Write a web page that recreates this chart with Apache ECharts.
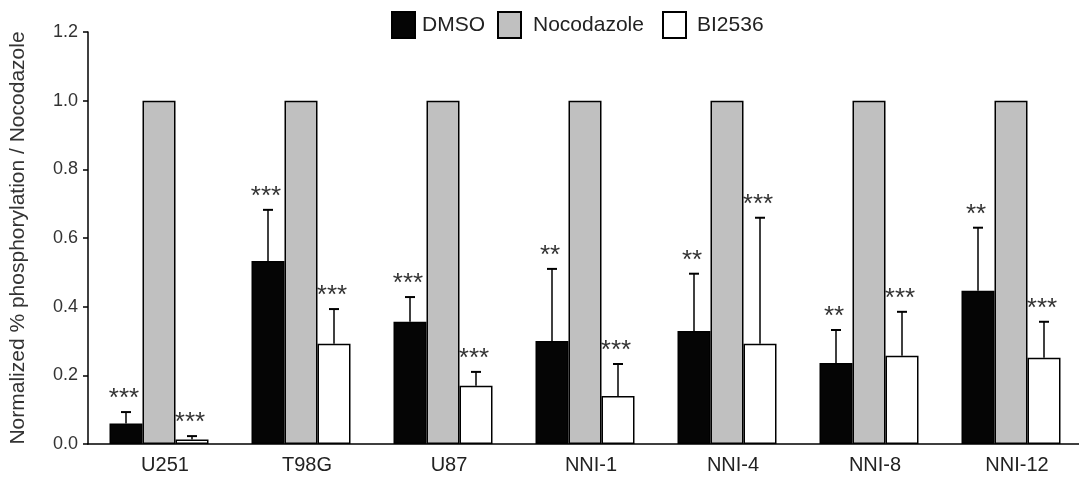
<!DOCTYPE html>
<html>
<head>
<meta charset="utf-8">
<script src="https://cdn.jsdelivr.net/npm/echarts@6/dist/echarts.min.js"></script>
<style>html,body{margin:0;padding:0;background:#fff;}#chart{width:1079px;height:477px;}</style>
</head>
<body>
<div id="chart"></div>
<script>
var categories = ['U251', 'T98G', 'U87', 'NNI-1', 'NNI-4', 'NNI-8', 'NNI-12'];
var dmso = [0.06, 0.533, 0.356, 0.30, 0.329, 0.236, 0.446];
var dmsoErr = [0.093, 0.682, 0.428, 0.51, 0.496, 0.332, 0.63];
var dmsoSig = ['***', '***', '***', '**', '**', '**', '**'];
var nocodazole = [1, 1, 1, 1, 1, 1, 1];
var bi2536 = [0.013, 0.292, 0.17, 0.14, 0.292, 0.257, 0.251];
var bi2536Err = [0.023, 0.393, 0.21, 0.233, 0.659, 0.385, 0.356];
var bi2536Sig = ['***', '***', '***', '***', '***', '***', '***'];
var yTicks = [0, 0.2, 0.4, 0.6, 0.8, 1.0, 1.2];

var BAR_W = 33;
var FONT = '"Liberation Sans", Arial, sans-serif';

function errSeries(vals, errs, sigs, offset) {
  var data = vals.map(function (v, i) { return [i, v, errs[i], sigs[i]]; });
  return {
    type: 'custom',
    name: 'err' + offset,
    data: data,
    encode: { x: 0, y: 2 },
    z: 10,
    renderItem: function (params, api) {
      var i = api.value(0);
      var base = api.coord([i, api.value(1)]);
      var top = api.coord([i, api.value(2)]);
      var x = base[0] + offset;
      var sig = data[params.dataIndex][3];
      return {
        type: 'group',
        children: [
          { type: 'line', shape: { x1: x, y1: base[1], x2: x, y2: top[1] }, style: { stroke: '#000', lineWidth: 1.5 } },
          { type: 'line', shape: { x1: x - 5, y1: top[1], x2: x + 5, y2: top[1] }, style: { stroke: '#000', lineWidth: 2 } },
          { type: 'text', x: x - 2, y: top[1] - 13, style: { text: sig, fill: '#333', font: '26px ' + FONT, textAlign: 'center', textVerticalAlign: 'middle' } }
        ]
      };
    }
  };
}

function legendAt(name, left, pad) {
  return {
    data: [name], left: left, top: 11, padding: 0,
    icon: 'rect', itemWidth: 23, itemHeight: 26,
    textStyle: { fontSize: 21, color: '#222', fontFamily: FONT, padding: [0, 0, 0, pad] }
  };
}

var chart = echarts.init(document.getElementById('chart'));
chart.setOption({
  animation: false,
  backgroundColor: '#fff',
  grid: { left: 88, top: 32, width: 994, bottom: 33, containLabel: false, outerBoundsMode: 'none' },
  legend: [legendAt('DMSO', 391, 2), legendAt('Nocodazole', 497, 7), legendAt('BI2536', 662, 6)],
  xAxis: {
    type: 'category', data: categories,
    axisLine: { lineStyle: { color: '#000', width: 1.5 } },
    axisTick: { length: 6, lineStyle: { color: '#000', width: 1.5 } },
    axisLabel: { fontSize: 20, color: '#222', fontFamily: FONT, margin: 11, padding: [0, 0, 0, 12] }
  },
  yAxis: {
    type: 'value', min: 0, max: 1.2, interval: 0.2,
    name: 'Normalized % phosphorylation / Nocodazole',
    nameLocation: 'middle', nameGap: 59, nameRotate: 90,
    nameTextStyle: { fontSize: 21, color: '#333', fontFamily: FONT },
    axisLine: { show: true, lineStyle: { color: '#000', width: 1.5 } },
    axisTick: { show: true, length: 5, lineStyle: { color: '#000', width: 1.5 } },
    splitLine: { show: false },
    axisLabel: { fontSize: 18, color: '#333', fontFamily: FONT, margin: 10, formatter: function (v) { return v.toFixed(1); } }
  },
  series: [
    { type: 'bar', name: 'DMSO', data: dmso, barWidth: BAR_W, barGap: '0%', itemStyle: { color: '#050505', borderColor: '#000', borderWidth: 1.5 } },
    { type: 'bar', name: 'Nocodazole', data: nocodazole, barWidth: BAR_W, barGap: '0%', itemStyle: { color: '#c0c0c0', borderColor: '#000', borderWidth: 1.5 } },
    { type: 'bar', name: 'BI2536', data: bi2536, barWidth: BAR_W, barGap: '0%', itemStyle: { color: '#ffffff', borderColor: '#000', borderWidth: 1.5 } },
    errSeries(dmso, dmsoErr, dmsoSig, -BAR_W),
    errSeries(bi2536, bi2536Err, bi2536Sig, BAR_W)
  ]
});
</script>
</body>
</html>
